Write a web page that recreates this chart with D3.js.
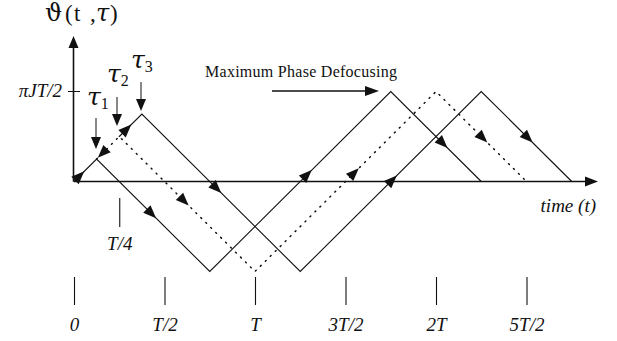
<!DOCTYPE html>
<html>
<head>
<meta charset="utf-8">
<script src="https://cdn.jsdelivr.net/npm/d3@7"></script>
<style>
  body { margin: 0; background: #fff; }
  text { font-family: "Liberation Serif", "Times New Roman", serif; fill: #111; }
  .greek { font-family: "DejaVu Serif", serif; }
</style>
</head>
<body>
<div id="chart"></div>
<script>
// phase curves, vertices as [t / T, phase / (pi J T)]
const tau1Points = [[0, 0], [0.125, 0.125], [0.75, -0.5], [1.75, 0.5], [2.25, 0]]
const tau2Points = [[0.125, 0.125], [0.25, 0.25], [1.0, -0.5], [2.0, 0.5], [2.5, 0]]
const tau3Points = [[0.25, 0.25], [0.375, 0.375], [1.25, -0.5], [2.25, 0.5], [2.75, 0]]

// where the direction arrows sit on each curve (t / T), negative = pointing backwards
const tau1Arrows = [0.033, 0.43, 1.29, 2.04]
const tau2Arrows = [-0.155, 0.61, 1.55, 2.26]
const tau3Arrows = [0.293, 0.79, 1.76, 2.51]

const tickValues = [0, 0.5, 1, 1.5, 2, 2.5]
const tickLabels = ['0', 'T/2', 'T', '3T/2', '2T', '5T/2']
const quarterTick = [0.25]
const quarterLabel = ['T/4']
const tauValues = [0.125, 0.25, 0.375]
const tauNames = ['1', '2', '3']

const width = 617
const height = 341

const svg = d3.select('#chart')
    .append('svg')
    .attr('width', width)
    .attr('height', height)

const x = d3.scaleLinear().domain([0, 2.5]).range([74, 526.5])
const y = d3.scaleLinear().domain([-0.5, 0.5]).range([271.5, 91.5])

const line = d3.line().x(d => x(d[0])).y(d => y(d[1]))

function head(g, tipX, tipY, angle, len, half) {
    g.append('path')
        .attr('d', `M0,0 L${-len},${-half} L${-len},${half} Z`)
        .attr('transform', `translate(${tipX},${tipY}) rotate(${angle})`)
        .attr('fill', '#111')
}

// axes
const axes = svg.append('g')
axes.append('line')
    .attr('x1', x(0)).attr('x2', 588)
    .attr('y1', y(0)).attr('y2', y(0))
    .attr('stroke', '#111').attr('stroke-width', 1.6)
head(axes, 598, y(0), 0, 13, 5)
axes.append('line')
    .attr('x1', x(0) - 0.5).attr('x2', x(0) - 0.5)
    .attr('y1', y(0)).attr('y2', 46)
    .attr('stroke', '#111').attr('stroke-width', 1.6)
head(axes, x(0) - 0.5, 36, -90, 12, 5)

// pi J T / 2 tick
axes.append('line')
    .attr('x1', x(0) - 6).attr('x2', x(0) + 6)
    .attr('y1', y(0.5)).attr('y2', y(0.5))
    .attr('stroke', '#111').attr('stroke-width', 1)
axes.append('text')
    .attr('x', 62).attr('y', y(0.5) + 5)
    .attr('text-anchor', 'end')
    .style('font-style', 'italic')
    .style('font-size', '19px')
    .text('\u03c0JT/2')

// y label
const ylab = svg.append('text').attr('y', 21).style('font-size', '23px')
ylab.append('tspan').attr('class', 'greek').attr('x', 45).style('font-size', '24px').text('\u03d1')
ylab.append('tspan').attr('x', 65).text('(')
ylab.append('tspan').attr('x', 74).text('t')
ylab.append('tspan').attr('x', 90).text(',')
ylab.append('tspan').attr('class', 'greek').attr('x', 96).style('font-style', 'italic').style('font-size', '24px').text('\u03c4')
ylab.append('tspan').attr('x', 110).text(')')

// curves
const curves = [
    { pts: tau1Points, arrows: tau1Arrows, dash: null },
    { pts: tau2Points, arrows: tau2Arrows, dash: '1,6' },
    { pts: tau3Points, arrows: tau3Arrows, dash: null }
]

function pointAt(pts, t) {
    for (let i = 1; i < pts.length; i++) {
        const a = pts[i - 1], b = pts[i]
        if (t >= a[0] && t <= b[0]) {
            const f = (t - a[0]) / (b[0] - a[0])
            return [a[0] + f * (b[0] - a[0]), a[1] + f * (b[1] - a[1]), a, b]
        }
    }
}

curves.forEach(c => {
    svg.append('path')
        .datum(c.pts)
        .attr('d', line)
        .attr('fill', 'none')
        .attr('stroke', '#111')
        .attr('stroke-width', c.dash ? 1.5 : 1.1)
        .attr('stroke-linecap', 'round')
        .attr('stroke-dasharray', c.dash)
})

curves.forEach(c => {
    c.arrows.forEach(v => {
        const back = v < 0
        const p = pointAt(c.pts, Math.abs(v))
        let ang = Math.atan2(y(p[3][1]) - y(p[2][1]), x(p[3][0]) - x(p[2][0])) * 180 / Math.PI
        if (back) ang += 180
        const r = ang * Math.PI / 180
        head(svg, x(p[0]) + 6 * Math.cos(r), y(p[1]) + 6 * Math.sin(r), ang, 13, 5.2)
    })
})

// tau labels with arrows
const tauLab = [
    { tx: 87, ty: 105, top: 118, tip: 149, ax: 96 },
    { tx: 107, ty: 82, top: 97, tip: 126, ax: 117 },
    { tx: 131, ty: 68, top: 82, tip: 111, ax: 141 }
]
tauValues.forEach((v, i) => {
    const l = tauLab[i]
    const t = svg.append('text').attr('x', l.tx).attr('y', l.ty)
    t.append('tspan').attr('class', 'greek').style('font-style', 'italic').style('font-size', '25px').text('\u03c4')
    t.append('tspan').attr('dy', 4).style('font-size', '16px').text(tauNames[i])
    svg.append('line')
        .attr('x1', l.ax).attr('x2', l.ax)
        .attr('y1', l.top).attr('y2', l.tip - 8)
        .attr('stroke', '#111').attr('stroke-width', 1)
    head(svg, l.ax, l.tip, 90, 12, 5)
})

// Maximum phase defocusing
svg.append('text')
    .attr('x', 205).attr('y', 77)
    .attr('textLength', 192)
    .attr('lengthAdjust', 'spacing')
    .style('font-size', '16px')
    .text('Maximum Phase Defocusing')
svg.append('line')
    .attr('x1', 272).attr('x2', 367)
    .attr('y1', 91).attr('y2', 91)
    .attr('stroke', '#111').attr('stroke-width', 1.4)
head(svg, 379, 91, 0, 14, 5)

// time label
svg.append('text')
    .attr('x', 596).attr('y', 212)
    .attr('text-anchor', 'end')
    .style('font-style', 'italic')
    .style('font-size', '19px')
    .text('time (t)')

// bottom ticks
const bottomAxis = d3.axisBottom(x)
    .tickValues(tickValues)
    .tickFormat((d, i) => tickLabels[i])
    .tickSize(28)
    .tickPadding(13)
const gb = svg.append('g').attr('transform', 'translate(0,277)').call(bottomAxis)
gb.select('.domain').remove()

const quarterAxis = d3.axisBottom(x)
    .tickValues(quarterTick)
    .tickFormat((d, i) => quarterLabel[i])
    .tickSize(29)
    .tickPadding(10)
const gq = svg.append('g').attr('transform', 'translate(0,198)').call(quarterAxis)
gq.select('.domain').remove()

svg.selectAll('.tick line').attr('stroke', '#111').attr('stroke-width', 1.1)
svg.selectAll('.tick text')
    .attr('fill', '#111')
    .style('font-family', '"Liberation Serif", "Times New Roman", serif')
    .style('font-style', 'italic')
    .style('font-size', '19px')
</script>
</body>
</html>
